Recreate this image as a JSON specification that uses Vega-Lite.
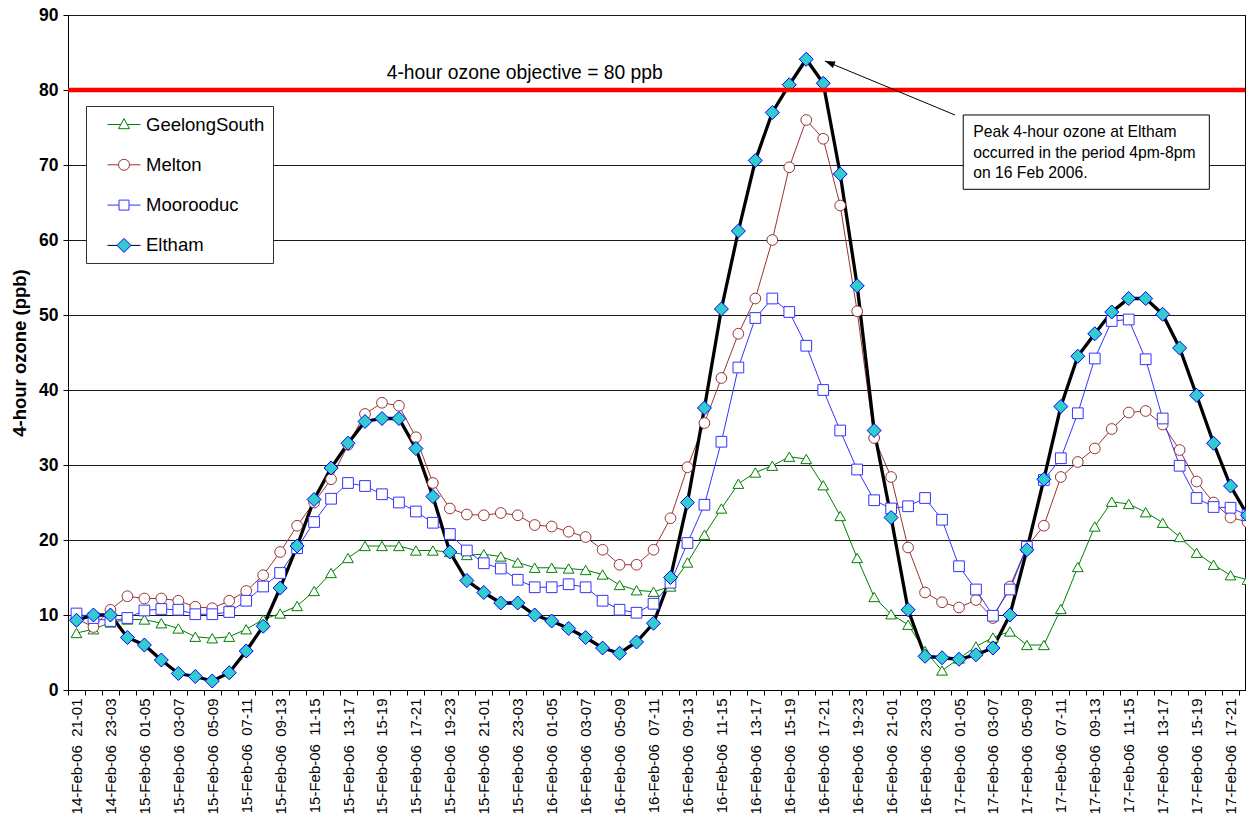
{
  "$schema": "https://vega.github.io/schema/vega-lite/v6.json",
  "width": 1177,
  "height": 675,
  "autosize": {"type": "none"},
  "padding": {"left": 68, "top": 15, "right": 1, "bottom": 126},
  "background": "white",
  "config": {
    "view": {"stroke": "#000000", "strokeWidth": 1},
    "font": "Liberation Sans",
    "axisY": {
      "grid": true, "gridColor": "#1a1a1a", "gridWidth": 1, "gridOpacity": 1,
      "domainColor": "#000000", "tickColor": "#000000", "tickSize": 5, "tickCount": 9,
      "labelFont": "Liberation Sans", "labelFontWeight": "bold", "labelFontSize": 17.5, "labelColor": "#000000", "labelPadding": 5,
      "titleFont": "Liberation Sans", "titleFontWeight": "bold", "titleFontSize": 18.5, "titleColor": "#000000", "titlePadding": 9
    }
  },
  "datasets": {
    "ozone": [
      {"t": "14-Feb-06\u00a0\u00a021-01", "GeelongSouth": 7.6, "Melton": 9.5, "Moorooduc": 10.2, "Eltham": 9.3},
      {"t": "14-Feb-06\u00a0\u00a022-02", "GeelongSouth": 8.1, "Melton": 8.4, "Moorooduc": 9.6, "Eltham": 10.0},
      {"t": "14-Feb-06\u00a0\u00a023-03", "GeelongSouth": 9.0, "Melton": 10.7, "Moorooduc": 9.2, "Eltham": 10.0},
      {"t": "15-Feb-06\u00a0\u00a000-04", "GeelongSouth": 9.4, "Melton": 12.5, "Moorooduc": 9.6, "Eltham": 7.0},
      {"t": "15-Feb-06\u00a0\u00a001-05", "GeelongSouth": 9.4, "Melton": 12.2, "Moorooduc": 10.6, "Eltham": 6.0},
      {"t": "15-Feb-06\u00a0\u00a002-06", "GeelongSouth": 8.9, "Melton": 12.2, "Moorooduc": 10.8, "Eltham": 4.0},
      {"t": "15-Feb-06\u00a0\u00a003-07", "GeelongSouth": 8.2, "Melton": 11.9, "Moorooduc": 10.7, "Eltham": 2.2},
      {"t": "15-Feb-06\u00a0\u00a004-08", "GeelongSouth": 7.1, "Melton": 11.1, "Moorooduc": 10.1, "Eltham": 1.8},
      {"t": "15-Feb-06\u00a0\u00a005-09", "GeelongSouth": 6.9, "Melton": 10.9, "Moorooduc": 10.1, "Eltham": 1.2},
      {"t": "15-Feb-06\u00a0\u00a006-10", "GeelongSouth": 7.1, "Melton": 11.9, "Moorooduc": 10.4, "Eltham": 2.3},
      {"t": "15-Feb-06\u00a0\u00a007-11", "GeelongSouth": 8.1, "Melton": 13.2, "Moorooduc": 11.9, "Eltham": 5.2},
      {"t": "15-Feb-06\u00a0\u00a008-12", "GeelongSouth": 9.4, "Melton": 15.3, "Moorooduc": 13.8, "Eltham": 8.5},
      {"t": "15-Feb-06\u00a0\u00a009-13", "GeelongSouth": 10.2, "Melton": 18.4, "Moorooduc": 15.6, "Eltham": 13.6},
      {"t": "15-Feb-06\u00a0\u00a010-14", "GeelongSouth": 11.2, "Melton": 21.9, "Moorooduc": 18.9, "Eltham": 19.2},
      {"t": "15-Feb-06\u00a0\u00a011-15", "GeelongSouth": 13.2, "Melton": 25.0, "Moorooduc": 22.4, "Eltham": 25.4},
      {"t": "15-Feb-06\u00a0\u00a012-16", "GeelongSouth": 15.6, "Melton": 28.1, "Moorooduc": 25.5, "Eltham": 29.6},
      {"t": "15-Feb-06\u00a0\u00a013-17", "GeelongSouth": 17.6, "Melton": 32.7, "Moorooduc": 27.6, "Eltham": 32.9},
      {"t": "15-Feb-06\u00a0\u00a014-18", "GeelongSouth": 19.2, "Melton": 36.8, "Moorooduc": 27.2, "Eltham": 35.8},
      {"t": "15-Feb-06\u00a0\u00a015-19", "GeelongSouth": 19.2, "Melton": 38.3, "Moorooduc": 26.1, "Eltham": 36.2},
      {"t": "15-Feb-06\u00a0\u00a016-20", "GeelongSouth": 19.2, "Melton": 37.9, "Moorooduc": 25.0, "Eltham": 36.2},
      {"t": "15-Feb-06\u00a0\u00a017-21", "GeelongSouth": 18.6, "Melton": 33.7, "Moorooduc": 23.8, "Eltham": 32.2},
      {"t": "15-Feb-06\u00a0\u00a018-22", "GeelongSouth": 18.6, "Melton": 27.6, "Moorooduc": 22.3, "Eltham": 25.8},
      {"t": "15-Feb-06\u00a0\u00a019-23", "GeelongSouth": 18.4, "Melton": 24.2, "Moorooduc": 20.8, "Eltham": 18.4},
      {"t": "15-Feb-06\u00a0\u00a020-00", "GeelongSouth": 18.0, "Melton": 23.4, "Moorooduc": 18.6, "Eltham": 14.6},
      {"t": "15-Feb-06\u00a0\u00a021-01", "GeelongSouth": 18.1, "Melton": 23.3, "Moorooduc": 16.9, "Eltham": 13.0},
      {"t": "15-Feb-06\u00a0\u00a022-02", "GeelongSouth": 17.8, "Melton": 23.6, "Moorooduc": 16.2, "Eltham": 11.6},
      {"t": "15-Feb-06\u00a0\u00a023-03", "GeelongSouth": 17.0, "Melton": 23.3, "Moorooduc": 14.7, "Eltham": 11.6},
      {"t": "16-Feb-06\u00a0\u00a000-04", "GeelongSouth": 16.3, "Melton": 22.0, "Moorooduc": 13.7, "Eltham": 10.0},
      {"t": "16-Feb-06\u00a0\u00a001-05", "GeelongSouth": 16.3, "Melton": 21.8, "Moorooduc": 13.7, "Eltham": 9.2},
      {"t": "16-Feb-06\u00a0\u00a002-06", "GeelongSouth": 16.2, "Melton": 21.1, "Moorooduc": 14.1, "Eltham": 8.2},
      {"t": "16-Feb-06\u00a0\u00a003-07", "GeelongSouth": 16.0, "Melton": 20.4, "Moorooduc": 13.7, "Eltham": 7.0},
      {"t": "16-Feb-06\u00a0\u00a004-08", "GeelongSouth": 15.4, "Melton": 18.7, "Moorooduc": 11.9, "Eltham": 5.6},
      {"t": "16-Feb-06\u00a0\u00a005-09", "GeelongSouth": 14.0, "Melton": 16.7, "Moorooduc": 10.7, "Eltham": 4.9},
      {"t": "16-Feb-06\u00a0\u00a006-10", "GeelongSouth": 13.3, "Melton": 16.7, "Moorooduc": 10.3, "Eltham": 6.4},
      {"t": "16-Feb-06\u00a0\u00a007-11", "GeelongSouth": 13.1, "Melton": 18.7, "Moorooduc": 11.5, "Eltham": 8.9},
      {"t": "16-Feb-06\u00a0\u00a008-12", "GeelongSouth": 13.8, "Melton": 22.9, "Moorooduc": 14.3, "Eltham": 15.0},
      {"t": "16-Feb-06\u00a0\u00a009-13", "GeelongSouth": 17.0, "Melton": 29.7, "Moorooduc": 19.6, "Eltham": 25.0},
      {"t": "16-Feb-06\u00a0\u00a010-14", "GeelongSouth": 20.7, "Melton": 35.6, "Moorooduc": 24.7, "Eltham": 37.6},
      {"t": "16-Feb-06\u00a0\u00a011-15", "GeelongSouth": 24.2, "Melton": 41.6, "Moorooduc": 33.1, "Eltham": 50.8},
      {"t": "16-Feb-06\u00a0\u00a012-16", "GeelongSouth": 27.5, "Melton": 47.5, "Moorooduc": 43.0, "Eltham": 61.2},
      {"t": "16-Feb-06\u00a0\u00a013-17", "GeelongSouth": 29.0, "Melton": 52.2, "Moorooduc": 49.6, "Eltham": 70.6},
      {"t": "16-Feb-06\u00a0\u00a014-18", "GeelongSouth": 29.9, "Melton": 60.0, "Moorooduc": 52.2, "Eltham": 77.0},
      {"t": "16-Feb-06\u00a0\u00a015-19", "GeelongSouth": 31.1, "Melton": 69.7, "Moorooduc": 50.4, "Eltham": 80.7},
      {"t": "16-Feb-06\u00a0\u00a016-20", "GeelongSouth": 30.8, "Melton": 76.0, "Moorooduc": 45.9, "Eltham": 84.1},
      {"t": "16-Feb-06\u00a0\u00a017-21", "GeelongSouth": 27.3, "Melton": 73.5, "Moorooduc": 40.0, "Eltham": 80.9},
      {"t": "16-Feb-06\u00a0\u00a018-22", "GeelongSouth": 23.2, "Melton": 64.6, "Moorooduc": 34.6, "Eltham": 68.8},
      {"t": "16-Feb-06\u00a0\u00a019-23", "GeelongSouth": 17.6, "Melton": 50.5, "Moorooduc": 29.4, "Eltham": 53.9},
      {"t": "16-Feb-06\u00a0\u00a020-00", "GeelongSouth": 12.4, "Melton": 33.6, "Moorooduc": 25.3, "Eltham": 34.6},
      {"t": "16-Feb-06\u00a0\u00a021-01", "GeelongSouth": 10.1, "Melton": 28.4, "Moorooduc": 24.2, "Eltham": 23.0},
      {"t": "16-Feb-06\u00a0\u00a022-02", "GeelongSouth": 8.7, "Melton": 19.0, "Moorooduc": 24.5, "Eltham": 10.7},
      {"t": "16-Feb-06\u00a0\u00a023-03", "GeelongSouth": 5.2, "Melton": 13.0, "Moorooduc": 25.6, "Eltham": 4.5},
      {"t": "17-Feb-06\u00a0\u00a000-04", "GeelongSouth": 2.6, "Melton": 11.7, "Moorooduc": 22.7, "Eltham": 4.3},
      {"t": "17-Feb-06\u00a0\u00a001-05", "GeelongSouth": 4.2, "Melton": 11.0, "Moorooduc": 16.5, "Eltham": 4.1},
      {"t": "17-Feb-06\u00a0\u00a002-06", "GeelongSouth": 5.8, "Melton": 12.0, "Moorooduc": 13.4, "Eltham": 4.7},
      {"t": "17-Feb-06\u00a0\u00a003-07", "GeelongSouth": 7.0, "Melton": 9.6, "Moorooduc": 9.9, "Eltham": 5.6},
      {"t": "17-Feb-06\u00a0\u00a004-08", "GeelongSouth": 7.8, "Melton": 13.8, "Moorooduc": 13.4, "Eltham": 10.0},
      {"t": "17-Feb-06\u00a0\u00a005-09", "GeelongSouth": 6.0, "Melton": 19.1, "Moorooduc": 19.1, "Eltham": 18.7},
      {"t": "17-Feb-06\u00a0\u00a006-10", "GeelongSouth": 6.0, "Melton": 21.9, "Moorooduc": 28.0, "Eltham": 28.1},
      {"t": "17-Feb-06\u00a0\u00a007-11", "GeelongSouth": 10.8, "Melton": 28.4, "Moorooduc": 30.9, "Eltham": 37.8},
      {"t": "17-Feb-06\u00a0\u00a008-12", "GeelongSouth": 16.4, "Melton": 30.4, "Moorooduc": 36.9, "Eltham": 44.5},
      {"t": "17-Feb-06\u00a0\u00a009-13", "GeelongSouth": 21.8, "Melton": 32.2, "Moorooduc": 44.2, "Eltham": 47.5},
      {"t": "17-Feb-06\u00a0\u00a010-14", "GeelongSouth": 25.1, "Melton": 34.8, "Moorooduc": 49.2, "Eltham": 50.4},
      {"t": "17-Feb-06\u00a0\u00a011-15", "GeelongSouth": 24.8, "Melton": 37.0, "Moorooduc": 49.4, "Eltham": 52.2},
      {"t": "17-Feb-06\u00a0\u00a012-16", "GeelongSouth": 23.7, "Melton": 37.2, "Moorooduc": 44.1, "Eltham": 52.2},
      {"t": "17-Feb-06\u00a0\u00a013-17", "GeelongSouth": 22.3, "Melton": 35.4, "Moorooduc": 36.2, "Eltham": 50.1},
      {"t": "17-Feb-06\u00a0\u00a014-18", "GeelongSouth": 20.4, "Melton": 32.0, "Moorooduc": 29.9, "Eltham": 45.6},
      {"t": "17-Feb-06\u00a0\u00a015-19", "GeelongSouth": 18.3, "Melton": 27.8, "Moorooduc": 25.6, "Eltham": 39.3},
      {"t": "17-Feb-06\u00a0\u00a016-20", "GeelongSouth": 16.7, "Melton": 25.0, "Moorooduc": 24.4, "Eltham": 32.9},
      {"t": "17-Feb-06\u00a0\u00a017-21", "GeelongSouth": 15.3, "Melton": 23.0, "Moorooduc": 24.3, "Eltham": 27.2},
      {"t": "17-Feb-06\u00a0\u00a018-22", "GeelongSouth": 14.7, "Melton": 22.4, "Moorooduc": 23.3, "Eltham": 23.3}
    ]
  },
  "layer": [
    {
      "data": {"name": "ozone"},
      "transform": [{"fold": ["GeelongSouth", "Melton", "Moorooduc", "Eltham"], "as": ["series", "ppb"]}],
      "encoding": {
        "x": {
          "field": "t", "type": "ordinal", "sort": null,
          "scale": {"type": "band", "range": [0, 1188], "paddingInner": 0, "paddingOuter": 0},
          "axis": {
            "title": null, "labelAngle": 270, "labelFont": "Liberation Sans", "labelFontSize": 15, "labelColor": "#000000",
            "tickBand": "extent", "tickSize": 5, "tickColor": "#000000", "domainColor": "#000000", "grid": false,
            "labelPadding": 3, "labelOverlap": false, "labelBound": false, "labelLimit": 200,
            "labelExpr": "toNumber(slice(datum.label, -5, -3)) % 2 == 1 ? datum.label : ''"
          }
        },
        "y": {"field": "ppb", "type": "quantitative", "scale": {"domain": [0, 90], "nice": false}, "title": "4-hour ozone (ppb)"}
      },
      "layer": [
        {
          "mark": {"type": "line"},
          "encoding": {
            "color": {"field": "series", "type": "nominal", "legend": null,
              "scale": {"domain": ["GeelongSouth", "Melton", "Moorooduc", "Eltham"], "range": ["#008000", "#993333", "#3333ff", "#000000"]}},
            "strokeWidth": {"condition": {"test": "datum.series === 'Eltham'", "value": 3.3}, "value": 1}
          }
        },
        {
          "mark": {"type": "point", "filled": true, "opacity": 1, "strokeWidth": 1},
          "encoding": {
            "shape": {"field": "series", "type": "nominal", "legend": null,
              "scale": {"domain": ["GeelongSouth", "Melton", "Moorooduc", "Eltham"], "range": ["triangle-up", "circle", "square", "diamond"]}},
            "stroke": {"field": "series", "type": "nominal", "legend": null,
              "scale": {"domain": ["GeelongSouth", "Melton", "Moorooduc", "Eltham"], "range": ["#008000", "#993333", "#3333ff", "#0000ff"]}},
            "fill": {"field": "series", "type": "nominal", "legend": null,
              "scale": {"domain": ["GeelongSouth", "Melton", "Moorooduc", "Eltham"], "range": ["#ffffff", "#ffffff", "#ffffff", "#33cccc"]}},
            "size": {"condition": {"test": "datum.series === 'Eltham'", "value": 196}, "value": 115}
          }
        }
      ]
    },
    {
      "data": {"name": "ozone"},
      "transform": [{"fold": ["GeelongSouth", "Melton", "Moorooduc", "Eltham"], "as": ["series", "ppb"]}, {"filter": "false"}],
      "mark": {"type": "point", "filled": false, "opacity": 1},
      "encoding": {
        "stroke": {"field": "series", "type": "nominal",
          "scale": {"domain": ["GeelongSouth", "Melton", "Moorooduc", "Eltham"], "range": ["#008000", "#993333", "#3333ff", "#000000"]},
          "legend": {
            "orient": "none", "legendX": 18, "legendY": 91, "direction": "vertical", "title": null,
            "symbolType": "M0.3,0H3.6", "symbolSize": 400, "symbolFillColor": "transparent", "symbolOpacity": 1, "symbolStrokeWidth": 1,
            "labelFont": "Liberation Sans", "labelFontSize": 18.5, "labelColor": "#000000", "labelOffset": 31, "labelLimit": 300,
            "padding": 8, "rowPadding": 20.3, "strokeColor": "#333333", "fillColor": "#ffffff",
            "encode": {"symbols": {"update": {"strokeWidth": {"signal": "datum.value === 'Eltham' ? 3.3 : 1"}}}}
          }
        }
      }
    },
    {
      "data": {"name": "ozone"},
      "transform": [{"fold": ["GeelongSouth", "Melton", "Moorooduc", "Eltham"], "as": ["series", "ppb"]}, {"filter": "false"}],
      "mark": {"type": "point", "filled": true, "opacity": 1},
      "encoding": {
        "shape": {"field": "series", "type": "nominal",
          "scale": {"domain": ["GeelongSouth", "Melton", "Moorooduc", "Eltham"],
            "range": ["M1.95,-0.58L2.5,0.42L1.4,0.42Z", "M1.4,0A0.55,0.55 0 1,0 2.5,0A0.55,0.55 0 1,0 1.4,0Z", "M1.45,-0.5H2.45V0.5H1.45Z", "M1.95,-0.7L2.65,0L1.95,0.7L1.25,0Z"]},
          "legend": {
            "orient": "none", "legendX": 18, "legendY": 91, "direction": "vertical", "title": null,
            "symbolSize": 400, "symbolOpacity": 1, "symbolStrokeWidth": 1,
            "labelFont": "Liberation Sans", "labelFontSize": 18.5, "labelColor": "transparent", "labelOffset": 31, "labelLimit": 300,
            "padding": 8, "rowPadding": 20.3
          }
        },
        "stroke": {"field": "series", "type": "nominal",
          "scale": {"domain": ["GeelongSouth", "Melton", "Moorooduc", "Eltham"], "range": ["#008000", "#993333", "#3333ff", "#0000ff"]},
          "legend": {
            "orient": "none", "legendX": 18, "legendY": 91, "direction": "vertical", "title": null,
            "symbolSize": 400, "symbolOpacity": 1, "symbolStrokeWidth": 1,
            "labelFont": "Liberation Sans", "labelFontSize": 18.5, "labelColor": "transparent", "labelOffset": 31, "labelLimit": 300,
            "padding": 8, "rowPadding": 20.3
          }
        },
        "fill": {"field": "series", "type": "nominal",
          "scale": {"domain": ["GeelongSouth", "Melton", "Moorooduc", "Eltham"], "range": ["#ffffff", "#ffffff", "#ffffff", "#33cccc"]},
          "legend": {
            "orient": "none", "legendX": 18, "legendY": 91, "direction": "vertical", "title": null,
            "symbolSize": 400, "symbolOpacity": 1, "symbolStrokeWidth": 1,
            "labelFont": "Liberation Sans", "labelFontSize": 18.5, "labelColor": "transparent", "labelOffset": 31, "labelLimit": 300,
            "padding": 8, "rowPadding": 20.3
          }
        }
      }
    },
    {
      "data": {"values": [{}]},
      "layer": [
        {
          "mark": {"type": "rule", "color": "#ff0000", "strokeWidth": 4.5},
          "encoding": {
            "y": {"datum": 80, "type": "quantitative", "title": "4-hour ozone (ppb)"}
          }
        },
        {
          "mark": {"type": "text", "text": "4-hour ozone objective = 80 ppb", "align": "left", "baseline": "middle", "font": "Liberation Sans", "fontSize": 19.3, "color": "#000000"},
          "encoding": {
            "x": {"datum": 18.78, "type": "quantitative", "scale": {"domain": [0, 70], "range": [0, 1188]}, "axis": null},
            "y": {"datum": 82.3, "type": "quantitative", "title": "4-hour ozone (ppb)"}
          }
        },
        {
          "mark": {"type": "rule", "color": "#000000", "strokeWidth": 1},
          "encoding": {
            "x": {"datum": 52.26, "type": "quantitative", "axis": null},
            "x2": {"datum": 44.6},
            "y": {"datum": 76.67, "type": "quantitative", "title": "4-hour ozone (ppb)"},
            "y2": {"datum": 83.87}
          }
        },
        {
          "mark": {"type": "point", "shape": "M0,0L0.35,1L-0.35,1Z", "filled": true, "color": "#000000", "opacity": 1, "size": 400, "angle": 291.7},
          "encoding": {
            "x": {"datum": 44.6, "type": "quantitative", "axis": null},
            "y": {"datum": 83.87, "type": "quantitative", "title": "4-hour ozone (ppb)"}
          }
        },
        {
          "mark": {"type": "rect", "fill": "#ffffff", "stroke": "#000000", "strokeWidth": 1},
          "encoding": {
            "x": {"datum": 52.75, "type": "quantitative", "axis": null},
            "x2": {"datum": 67.25},
            "y": {"datum": 76.67, "type": "quantitative", "title": "4-hour ozone (ppb)"},
            "y2": {"datum": 66.76}
          }
        },
        {
          "mark": {"type": "text", "text": "Peak 4-hour ozone at Eltham", "align": "left", "baseline": "middle", "font": "Liberation Sans", "fontSize": 15.7, "color": "#000000"},
          "encoding": {
            "x": {"datum": 53.34, "type": "quantitative", "axis": null},
            "y": {"datum": 74.44, "type": "quantitative", "title": "4-hour ozone (ppb)"}
          }
        },
        {
          "mark": {"type": "text", "text": "occurred in the period 4pm-8pm", "align": "left", "baseline": "middle", "font": "Liberation Sans", "fontSize": 15.7, "color": "#000000"},
          "encoding": {
            "x": {"datum": 53.34, "type": "quantitative", "axis": null},
            "y": {"datum": 71.64, "type": "quantitative", "title": "4-hour ozone (ppb)"}
          }
        },
        {
          "mark": {"type": "text", "text": "on 16 Feb 2006.", "align": "left", "baseline": "middle", "font": "Liberation Sans", "fontSize": 15.7, "color": "#000000"},
          "encoding": {
            "x": {"datum": 53.34, "type": "quantitative", "axis": null},
            "y": {"datum": 68.97, "type": "quantitative", "title": "4-hour ozone (ppb)"}
          }
        }
      ]
    }
  ],
  "resolve": {
    "scale": {"x": "independent", "shape": "independent", "stroke": "independent", "fill": "independent"}
  }
}
